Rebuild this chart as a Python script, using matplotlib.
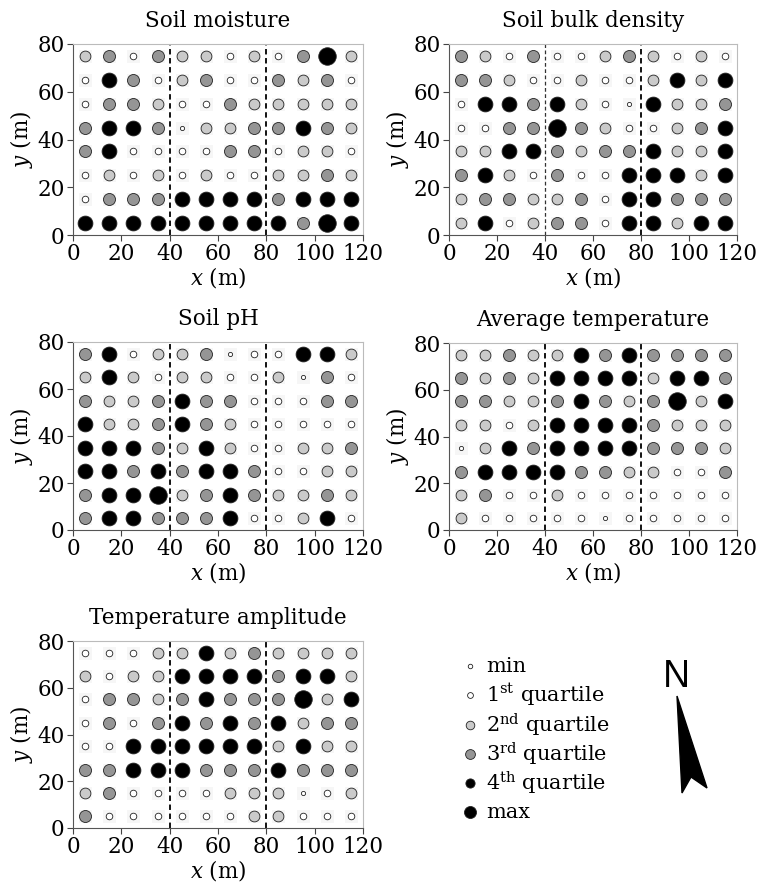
import numpy as np
import matplotlib
matplotlib.use("Agg")
import matplotlib.pyplot as plt
from matplotlib.patches import Polygon

plt.rcParams['font.family'] = 'DejaVu Serif'
plt.rcParams['mathtext.fontset'] = 'custom'
plt.rcParams['mathtext.rm'] = 'DejaVu Serif'
plt.rcParams['mathtext.it'] = 'DejaVu Serif:italic'

# grid of sampling points (centres of 10 m cells)
x_pts = [5, 15, 25, 35, 45, 55, 65, 75, 85, 95, 105, 115]
y_pts = [75, 65, 55, 45, 35, 25, 15, 5]

# class per cell: 0=min 1=1st 2=2nd 3=3rd 4=4th quartile 5=max (rows top -> bottom)
moisture = [
    [2, 3, 1, 3, 2, 2, 1, 2, 1, 3, 5, 2],
    [1, 4, 3, 1, 2, 3, 1, 1, 3, 2, 3, 1],
    [1, 3, 3, 2, 1, 1, 3, 2, 2, 2, 2, 2],
    [3, 4, 4, 3, 0, 2, 2, 3, 3, 4, 3, 2],
    [3, 4, 1, 1, 1, 1, 3, 3, 1, 2, 2, 1],
    [1, 2, 1, 2, 1, 2, 1, 1, 2, 2, 3, 2],
    [1, 3, 3, 3, 4, 4, 4, 4, 3, 4, 4, 4],
    [4, 4, 4, 4, 4, 4, 4, 4, 4, 3, 5, 4],
]
bulk_density = [
    [3, 2, 1, 3, 1, 1, 2, 3, 2, 1, 2, 1],
    [3, 3, 2, 1, 1, 2, 1, 1, 2, 4, 2, 4],
    [1, 4, 4, 3, 4, 2, 1, 0, 4, 2, 2, 3],
    [1, 1, 3, 3, 5, 3, 2, 1, 1, 2, 3, 4],
    [2, 2, 4, 4, 3, 2, 3, 3, 4, 2, 2, 4],
    [3, 4, 2, 1, 3, 1, 1, 4, 4, 4, 2, 4],
    [2, 3, 3, 2, 2, 3, 1, 4, 4, 3, 3, 3],
    [2, 4, 1, 2, 3, 3, 1, 4, 4, 2, 4, 4],
]
ph = [
    [3, 4, 1, 2, 2, 3, 0, 1, 1, 4, 4, 2],
    [2, 4, 2, 1, 2, 2, 1, 1, 2, 0, 3, 1],
    [3, 2, 2, 3, 4, 3, 3, 1, 1, 1, 3, 3],
    [4, 2, 2, 3, 4, 3, 2, 1, 1, 1, 1, 1],
    [4, 4, 4, 3, 2, 4, 2, 1, 1, 2, 2, 3],
    [4, 4, 3, 4, 3, 4, 4, 3, 1, 1, 2, 2],
    [3, 4, 4, 5, 2, 3, 4, 3, 2, 2, 3, 2],
    [3, 4, 4, 3, 3, 3, 4, 1, 1, 2, 4, 1],
]
avg_temp = [
    [2, 2, 3, 2, 2, 4, 3, 4, 3, 3, 3, 3],
    [3, 2, 3, 2, 4, 4, 4, 4, 2, 4, 4, 3],
    [3, 3, 2, 2, 3, 4, 3, 2, 3, 5, 2, 4],
    [2, 2, 1, 2, 4, 4, 4, 4, 3, 2, 2, 2],
    [0, 2, 4, 3, 4, 4, 4, 4, 3, 3, 3, 2],
    [3, 4, 4, 4, 4, 3, 3, 2, 2, 1, 1, 3],
    [2, 3, 1, 1, 2, 1, 1, 1, 1, 1, 1, 1],
    [2, 1, 1, 1, 1, 1, 0, 1, 1, 1, 1, 1],
]
temp_amp = [
    [1, 1, 1, 2, 2, 4, 2, 3, 2, 2, 2, 2],
    [2, 1, 2, 2, 4, 4, 4, 4, 3, 4, 4, 2],
    [1, 3, 3, 2, 3, 4, 3, 3, 3, 5, 2, 4],
    [1, 3, 1, 3, 4, 3, 4, 3, 4, 2, 3, 3],
    [1, 1, 4, 4, 4, 4, 4, 4, 2, 4, 2, 2],
    [3, 3, 4, 4, 4, 3, 3, 3, 4, 3, 3, 3],
    [2, 3, 1, 1, 1, 1, 2, 2, 2, 0, 1, 2],
    [3, 1, 1, 1, 1, 1, 1, 2, 2, 1, 1, 1],
]

titles = ['Soil moisture', 'Soil bulk density', 'Soil pH',
          'Average temperature', 'Temperature amplitude']
panels = [moisture, bulk_density, ph, avg_temp, temp_amp]

class_labels = ['min', r'1$^{\rm st}$ quartile', r'2$^{\rm nd}$ quartile',
                r'3$^{\rm rd}$ quartile', r'4$^{\rm th}$ quartile', 'max']
class_colors = ['white', 'white', '#cacaca', '#959595', 'black', 'black']
class_diam_px = [4.2, 6.6, 10.8, 12.0, 14.8, 17.5]
legend_diam_px = [4.5, 5.8, 8.6, 9.8, 9.2, 12.0]

W, H = 764, 890
fig = plt.figure(figsize=(W / 100, H / 100), dpi=100)

# axes boxes in pixels: left, top, right, bottom
boxes = [(73, 44, 363, 235), (449, 44, 737, 235),
         (73, 342, 363, 530), (449, 343, 737, 530),
         (73, 641, 363, 828)]

px2pt = 72 / 100
for i, ((l, t, r, b), title, grid) in enumerate(zip(boxes, titles, panels)):
    ax = fig.add_axes([l / W, 1 - b / H, (r - l) / W, (b - t) / H])
    g = np.array(grid)
    xs, ys = np.meshgrid(x_pts, y_pts)
    # faint cell background
    ax.scatter(xs.ravel(), ys.ravel(), marker='s', s=(13 * px2pt) ** 2,
               color='#f6f6f6', linewidths=0, zorder=1)
    for k in range(6):
        m = g == k
        ax.scatter(xs[m], ys[m], s=(class_diam_px[k] * px2pt) ** 2,
                   c=class_colors[k], edgecolors='#222222', linewidths=0.6,
                   zorder=3)
    if i == 1:
        ax.axvline(40, color='#333333', ls=(0, (3, 2)), lw=0.9, zorder=2)
    else:
        ax.axvline(40, color='black', ls=(0, (3, 2)), lw=1.3, zorder=2)
    ax.axvline(80, color='black', ls=(0, (3, 2)), lw=1.3, zorder=2)
    ax.set_xlim(0, 120)
    ax.set_ylim(0, 80)
    ax.set_xticks(range(0, 121, 20))
    ax.set_yticks(range(0, 81, 20))
    ax.tick_params(direction='out', length=4, width=0.8, labelsize=15.5,
                   pad=2, colors='#444444', labelcolor='black')
    for s in ['left', 'bottom']:
        ax.spines[s].set_color('#555555')
        ax.spines[s].set_linewidth(0.8)
    for s in ['top', 'right']:
        ax.spines[s].set_color('#bbbbbb')
        ax.spines[s].set_linewidth(0.8)
    ax.set_xlabel(r'$x$ (m)', fontsize=15.5, labelpad=0)
    ax.set_ylabel(r'$y$ (m)', fontsize=15.5, labelpad=2)
    ax.set_title(title, fontsize=15.5, pad=12)

# legend and north arrow, drawn in pixel space
ov = fig.add_axes([0, 0, 1, 1])
ov.set_xlim(0, W)
ov.set_ylim(H, 0)
ov.axis('off')
leg_y = [666, 695, 725, 754, 783, 812]
for k in range(6):
    ov.scatter([470], [leg_y[k]], s=(legend_diam_px[k] * px2pt) ** 2,
               c=class_colors[k], edgecolors='#222222', linewidths=0.6)
    ov.text(486, leg_y[k], class_labels[k], fontsize=15, va='center', ha='left')

ov.text(676, 677, 'N', fontsize=27, family='Liberation Sans',
        fontweight='medium', ha='center', va='center')
ov.add_patch(Polygon([(677, 696), (707, 788), (691, 777), (682, 793)],
                     closed=True, color='black'))

fig.savefig('out.png', dpi=100)
